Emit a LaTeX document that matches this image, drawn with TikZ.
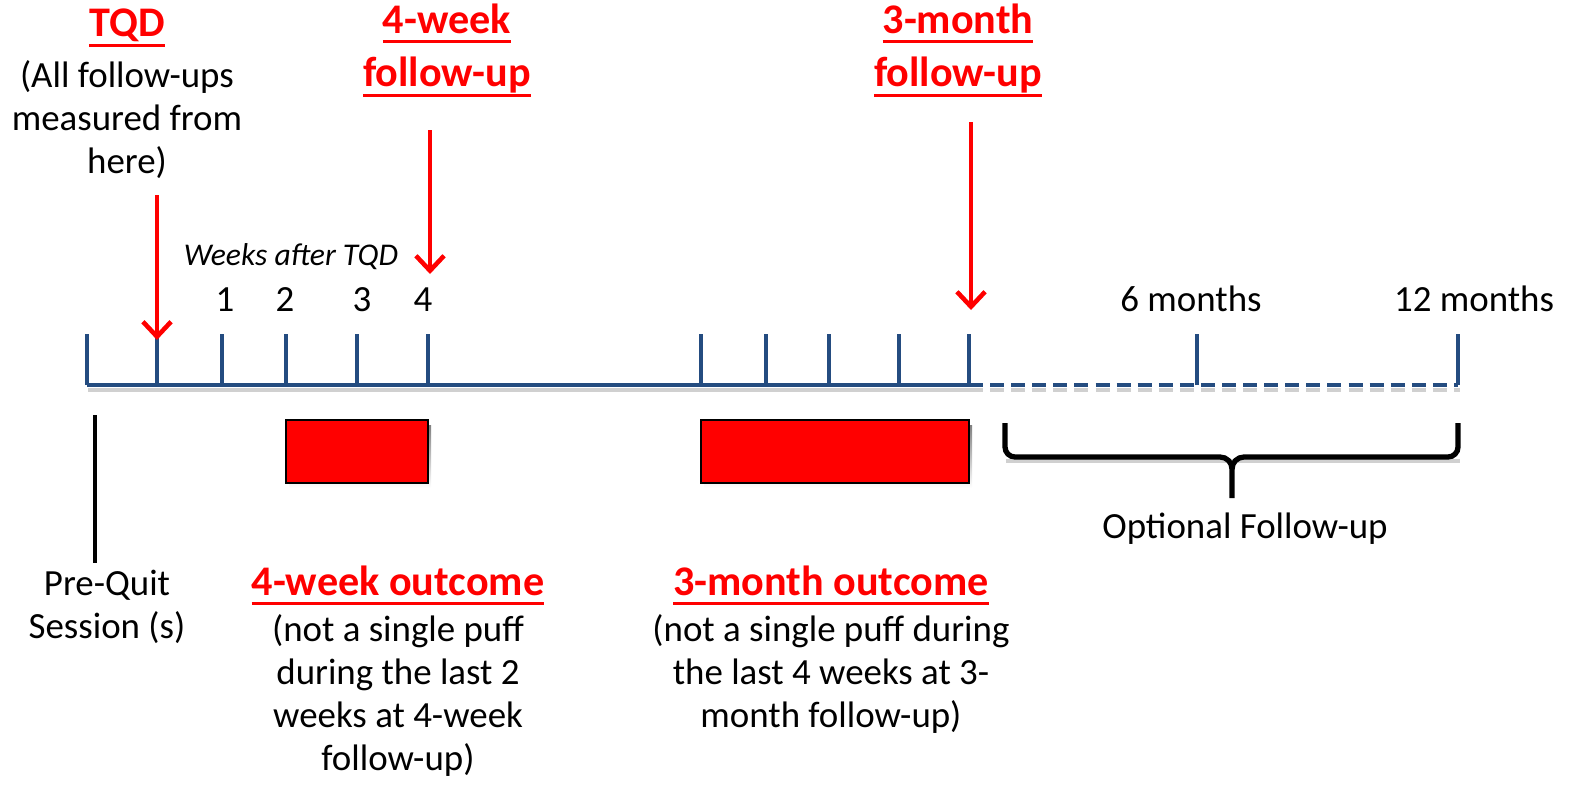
\documentclass[tikz,border=0pt]{standalone}
\usepackage{fontspec}
\setmainfont{Carlito}
\usetikzlibrary{arrows.meta,positioning}
\definecolor{axisblue}{RGB}{36,76,128}
\definecolor{shade}{RGB}{208,208,208}
\newsavebox{\hdrbox}
\newcommand{\hdrline}[1]{\sbox{\hdrbox}{#1}\rlap{\rule[-5.5pt]{\wd\hdrbox}{1.8pt}}\usebox{\hdrbox}}

\begin{document}
\begin{tikzpicture}[x=0.02cm, y=-0.02cm,
    note/.style={align=center, inner sep=0pt, font=\fontsize{21}{24.4}\selectfont},
    hdr/.style={align=center, inner sep=0pt, text=red, font=\fontsize{24}{30.5}\selectfont\bfseries},
    axisline/.style={draw=axisblue, line width=2.3pt},
    shadowline/.style={draw=shade, line width=2.3pt},
    outbox/.style={draw=black, fill=red, line width=1pt},
    redarrow/.style={draw=red, line width=2.6pt, -{Straight Barb[length=8.5pt,width=16pt]}},
    brace/.style={draw=black, line width=3pt}]

  \useasboundingbox (0,0) rectangle (1571,784);

  % shadows
  \draw[shadowline] (88,390) -- (969,390);
  \draw[shadowline, dash pattern=on 8pt off 4pt] (969,390) -- (1460,390);
  \fill[shade] (289,425) rectangle (431,488);
  \fill[shade] (704,425) rectangle (972,488);
  \draw[shadowline, line width=2.8pt] (1006,461) -- (1460,461);

  % timeline
  \draw[axisline] (87,385) -- (969,385);
  \draw[axisline, dash pattern=on 8pt off 4pt] (969,385) -- (1458,385);
  \foreach \x [count=\i] in {87,157,222,286,357,428,701,766,829,899,969,1197,1458}
    \draw[axisline] (\x,385) -- (\x,334) coordinate (tk\i);

  % outcome windows
  \draw[outbox] (286,420) rectangle (428,483);
  \draw[outbox] (701,420) rectangle (969,483);

  % pre-quit marker
  \draw[line width=1.8pt] (95,415) -- (95,563);

  % optional brace
  \draw[brace] (1005,423) -- (1005,447) to[out=-90,in=180] (1015,457) -- (1220,457)
    to[out=0,in=90] (1232,469) -- (1232,498);
  \draw[brace] (1232,469) to[out=90,in=180] (1244,457) -- (1448,457)
    to[out=0,in=-90] (1458,447) -- (1458,423);

  % labels (base = last line)
  \node[hdr, anchor=base] (tqd) at (127,37) {\hdrline{TQD}};
  \node[note, anchor=base] (tqdnote) at (127,173) {(All follow-ups\\measured from\\here)};
  \node[hdr, anchor=base] (wk4) at (447,87) {\hdrline{4-week}\\\hdrline{follow-up}};
  \node[hdr, anchor=base] (mo3) at (958,87) {\hdrline{3-month}\\\hdrline{follow-up}};
  \node[note, anchor=base, font=\fontsize{18}{22}\selectfont\itshape] (weeks) at (291,265) {Weeks after TQD};
  \foreach \x/\t [count=\i] in {225/1,285/2,362/3,423/4}
    \node[note, anchor=base] (wn\i) at (\x,311) {\t};
  \node[note, anchor=base] (m6) at (1191,311) {6 months};
  \node[note, anchor=base] (m12) at (1474,311) {12 months};
  \node[note, anchor=base] (pre) at (107,638) {Pre-Quit\\Session (s)};
  \node[hdr, anchor=base] (out4) at (398,595) {\hdrline{4-week outcome}};
  \node[note, anchor=base] (out4note) at (398,770) {(not a single puff\\during the last 2\\weeks at 4-week\\follow-up)};
  \node[hdr, anchor=base] (out3) at (831,595) {\hdrline{3-month outcome}};
  \node[note, anchor=base] (out3note) at (831,727) {(not a single puff during\\the last 4 weeks at 3-\\month follow-up)};
  \node[note, anchor=base] (opt) at (1245,538) {Optional Follow-up};

  % arrows
  \coordinate (tqdfrom) at (157,195);
  \coordinate (wk4from) at (430,130);
  \coordinate (wk4to) at (430,274);
  \coordinate (mo3from) at (971,122);
  \coordinate (mo3to) at (971,310);
  \draw[redarrow] (tqdfrom) -- ([yshift=-3.4pt]tk2);
  \draw[redarrow] (wk4from) -- (wk4to);
  \draw[redarrow] (mo3from) -- (mo3to);
\end{tikzpicture}
\end{document}
